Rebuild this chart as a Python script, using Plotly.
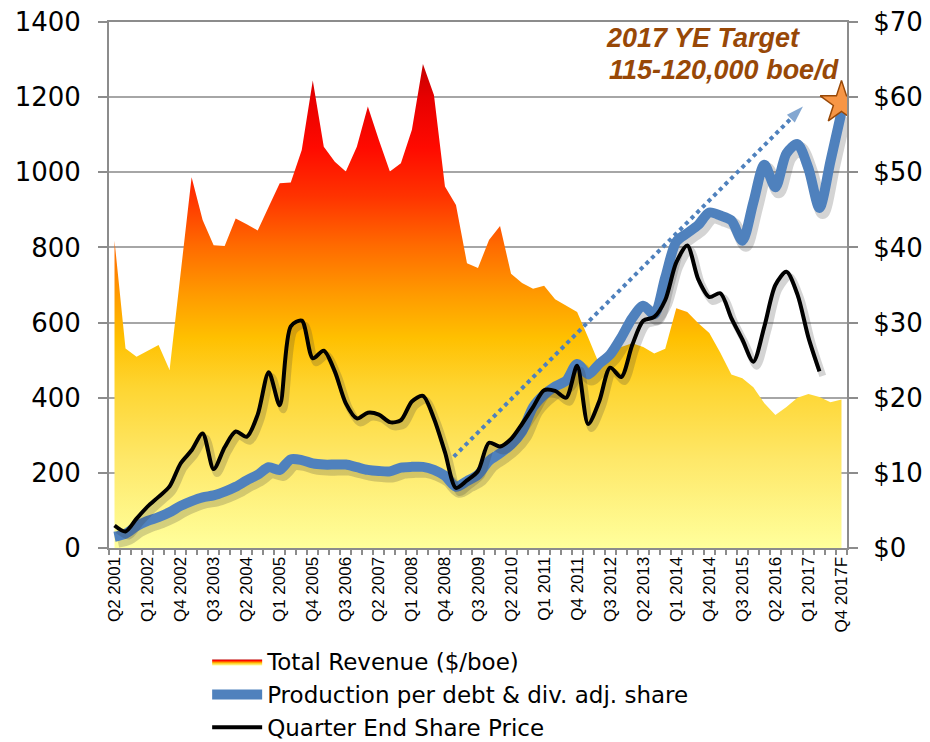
import plotly.graph_objects as go

# ---------------- data ----------------
quarters = [f"Q{q} {y}" for y in range(2001, 2018) for q in (1, 2, 3, 4)][1:]
quarters[-1] = "Q4 2017F"

tick_labels = ["Q2 2001", "Q1 2002", "Q4 2002", "Q3 2003", "Q2 2004", "Q1 2005",
               "Q4 2005", "Q3 2006", "Q2 2007", "Q1 2008", "Q4 2008", "Q3 2009",
               "Q2 2010", "Q1 2011", "Q4 2011", "Q3 2012", "Q2 2013", "Q1 2014",
               "Q4 2014", "Q3 2015", "Q2 2016", "Q1 2017", "Q4 2017F"]

total_revenue = [818, 531, 509, 525, 540, 474, 735, 987, 873, 806,
                 804, 877, 862, 845, 908, 971, 973, 1059, 1244, 1068,
                 1028, 1002, 1068, 1175, 1086, 1002, 1024, 1113, 1288, 1206,
                 962, 913, 758, 745, 820, 857, 730, 705, 690, 698,
                 662, 645, 628, 560, 490, 510, 535, 545, 535, 518,
                 530, 638, 628, 598, 572, 520, 462, 452, 428, 385,
                 354, 375, 400, 410, 402, 388, 395]

production_per_share = [30, 38, 58, 72, 82, 95, 112, 125, 135, 140,
                        150, 163, 180, 195, 215, 208, 236, 234, 225, 222,
                        222, 222, 215, 208, 205, 204, 214, 216, 216, 208,
                        192, 163, 178, 195, 232, 252, 275, 310, 375, 408,
                        430, 445, 490, 462, 490, 515, 560, 612, 645, 622,
                        720, 815, 838, 860, 893, 885, 872, 818, 920, 1020,
                        960, 1050, 1075, 1010, 905, 1030, 1160]

share_price = [3.0, 2.2, 3.9, 5.5, 6.8, 8.2, 11.25, 13.0, 15.25, 10.5,
               13.4, 15.5, 14.8, 17.75, 23.4, 19.0, 29.5, 30.25, 25.25, 26.25,
               23.5, 19.25, 17.25, 18.0, 17.75, 16.75, 17.0, 19.5, 20.25, 17.25,
               12.75, 8.0, 9.0, 10.25, 14.0, 13.5, 14.5, 16.5, 18.75, 21.0,
               20.9, 20.0, 24.25, 16.5, 19.5, 24.0, 22.75, 27.0, 30.25, 30.75,
               33.0, 38.0, 40.25, 35.75, 33.4, 33.9, 30.6, 27.75, 24.8, 29.5,
               35.0, 36.75, 33.75, 28.0, 23.5]

trend_quarter = [30.8, 62.5]
trend_value = [243, 1175]

target_quarter = ["Q4 2017F"]
target_value = [1185]

# ---------------- figure ----------------
xi = list(range(len(quarters)))
x_of = {q: i for i, q in enumerate(quarters)}
tick_pos = [x_of[t] for t in tick_labels]

FONT = "DejaVu Sans"
GRID = "#A6A6A6"
fig = go.Figure()

fig.add_trace(go.Scatter(
    x=xi, y=total_revenue, name="Total Revenue ($/boe)",
    mode="lines", line=dict(width=0, color="rgba(0,0,0,0)"),
    fill="tozeroy",
    fillgradient=dict(type="vertical", start=0, stop=1300,
                      colorscale=[[0.0, "#FFFF9C"], [0.18, "#FEE869"], [0.33, "#FED531"],
                                  [0.43, "#FFC000"], [0.52, "#FF9A00"], [0.62, "#FF6A00"],
                                  [0.72, "#FF3300"], [0.82, "#FF0a00"], [0.92, "#E80000"],
                                  [1.0, "#C00000"]]),
    hoverinfo="skip", legendgroup="a"))

# soft drop shadows (derived from the series)
fig.add_trace(go.Scatter(
    x=[v + 0.3 for v in xi], y=[v - 12 for v in production_per_share],
    mode="lines", line=dict(color="rgba(60,60,60,0.22)", width=13, shape="spline", smoothing=0.8),
    showlegend=False, hoverinfo="skip"))
fig.add_trace(go.Scatter(
    x=[v + 0.3 for v in xi[:len(share_price)]], y=[v - 0.6 for v in share_price],
    mode="lines", line=dict(color="rgba(60,60,60,0.22)", width=7, shape="spline", smoothing=0.8),
    yaxis="y2", showlegend=False, hoverinfo="skip"))

fig.add_trace(go.Scatter(
    x=xi, y=production_per_share, name="Production per debt & div. adj. share",
    mode="lines", line=dict(color="#4F81BD", width=10, shape="spline", smoothing=0.8),
    legendgroup="b"))

fig.add_trace(go.Scatter(
    x=xi[:len(share_price)], y=share_price, name="Quarter End Share Price",
    mode="lines", line=dict(color="#000000", width=4, shape="spline", smoothing=0.8),
    yaxis="y2", legendgroup="c"))

fig.add_trace(go.Scatter(
    x=trend_quarter, y=trend_value, mode="lines+markers",
    line=dict(color="#4F81BD", width=4, dash="dot"),
    marker=dict(symbol=["circle", "arrow"], size=[0, 18], color="#4F81BD",
                angleref="previous", line=dict(width=0)),
    showlegend=False, hoverinfo="skip"))

fig.add_trace(go.Scatter(
    x=[x_of[q] for q in target_quarter], y=target_value, mode="markers",
    marker=dict(symbol="star", size=32, color="#F79646",
                line=dict(color="#984807", width=1.5)),
    showlegend=False, hoverinfo="skip"))

fig.add_annotation(x=53.4, y=1358, xref="x", yref="y", text="<b><i>2017 YE Target</i></b>",
                   showarrow=False, font=dict(family="Liberation Sans", size=27, color="#984807"))
fig.add_annotation(x=55.3, y=1272, xref="x", yref="y", text="<b><i>115-120,000 boe/d</i></b>",
                   showarrow=False, font=dict(family="Liberation Sans", size=27, color="#984807"))

fig.update_layout(
    width=922, height=734,
    margin=dict(l=101, r=83, t=14, b=194, autoexpand=False),
    paper_bgcolor="white", plot_bgcolor="white",
    showlegend=True,
    legend=dict(x=0.133, y=-0.175, xanchor="left", yanchor="top",
                font=dict(family=FONT, size=23, color="#000000"),
                itemwidth=50, tracegroupgap=2, traceorder="normal",
                bgcolor="rgba(0,0,0,0)"),
    xaxis=dict(range=[-0.5, len(quarters) - 0.5], tickmode="array",
               tickvals=tick_pos, ticktext=tick_labels, tickangle=-90,
               ticks="", showgrid=False, zeroline=False, automargin=False,
               showline=True, linecolor="#8C8C8C", linewidth=2, mirror=True,
               ticklabeloverflow="allow",
               tickfont=dict(family="Liberation Sans", size=17, color="#000000"),
               minor=dict(tickmode="linear", tick0=-0.5, dtick=1, ticks="outside",
                          ticklen=5, tickcolor="#8C8C8C", tickwidth=1.5, showgrid=False)),
    yaxis=dict(range=[0, 1400], dtick=200, showgrid=True, gridcolor=GRID, gridwidth=2,
               zeroline=False, showline=True, linecolor="#8C8C8C", linewidth=2,
               ticks="outside", ticklen=9, tickcolor="#8C8C8C", tickwidth=1.5, automargin=False,
               ticklabeloverflow="allow", ticklabelstandoff=12,
               tickfont=dict(family=FONT, size=26, color="#000000")),
    yaxis2=dict(range=[0, 70], dtick=10, tickprefix="$", overlaying="y", side="right",
                showgrid=False, zeroline=False, showline=True, linecolor="#8C8C8C",
                linewidth=2, ticks="outside", ticklen=9, tickcolor="#8C8C8C", tickwidth=1.5,
                automargin=False, ticklabeloverflow="allow", ticklabelstandoff=10,
                tickfont=dict(family=FONT, size=26, color="#000000")),
)

fig.write_html("out.html")
